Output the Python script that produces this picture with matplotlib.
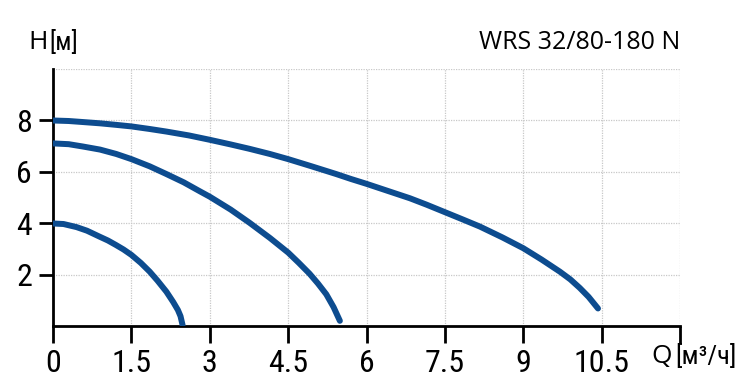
import numpy as np
import matplotlib
matplotlib.use('Agg')
import matplotlib.pyplot as plt
from matplotlib import font_manager

# 读取的曲线数据 (Q [м³/ч], H [м])
q1 = [0, 0.2, 0.45, 0.65, 0.89, 1.05, 1.2, 1.35, 1.5, 1.68, 1.85, 2.0, 2.17, 2.3, 2.39, 2.44, 2.48]
h1 = [4.0, 3.98, 3.86, 3.72, 3.49, 3.34, 3.17, 2.99, 2.78, 2.47, 2.13, 1.78, 1.35, 0.95, 0.64, 0.40, 0.05]

q2 = [0, 0.3, 0.57, 0.9, 1.21, 1.5, 1.85, 2.17, 2.5, 2.81, 3.0, 3.4, 3.76, 4.15, 4.5,
      4.7, 4.91, 5.07, 5.23, 5.37, 5.49]
h2 = [7.11, 7.08, 6.99, 6.87, 6.70, 6.50, 6.22, 5.92, 5.60, 5.25, 5.04, 4.54, 4.03, 3.44, 2.87,
      2.48, 2.05, 1.67, 1.25, 0.75, 0.22]

q3 = [0, 0.3, 0.57, 0.9, 1.21, 1.5, 1.85, 2.17, 2.6, 3.0, 3.4, 3.76, 4.15, 4.5, 4.95, 5.42,
      5.7, 6.0, 6.4, 6.83, 7.15, 7.5, 7.85, 8.17, 8.6, 9.0, 9.35, 9.7, 9.9, 10.08, 10.25, 10.43]
h3 = [8.0, 7.98, 7.94, 7.89, 7.83, 7.77, 7.67, 7.57, 7.42, 7.25, 7.07, 6.90, 6.70, 6.50, 6.22, 5.92,
      5.73, 5.54, 5.27, 4.98, 4.73, 4.44, 4.15, 3.88, 3.46, 3.04, 2.60, 2.13, 1.83, 1.50, 1.15, 0.70]

x_ticks = [0, 1.5, 3, 4.5, 6, 7.5, 9, 10.5, 12]
x_labels = ['0', '1.5', '3', '4.5', '6', '7.5', '9', '10.5', '']
y_ticks = [2, 4, 6, 8, 10]
y_labels = ['2', '4', '6', '8', '']

title = 'WRS 32/80-180 N'
line_color = '#0d4c8f'

names = {f.name for f in font_manager.fontManager.ttflist}
narrow = [n for n in ['Liberation Sans Narrow', 'DejaVu Sans Condensed', 'Roboto Condensed'] if n in names] + ['DejaVu Sans']
regular = ['Open Sans', 'DejaVu Sans']

fig = plt.figure(figsize=(7.5, 3.82), dpi=100)
ax = fig.add_axes([0.0707, 0.1453, 0.836, 0.6741])

for q, h in [(q1, h1), (q2, h2), (q3, h3)]:
    ax.plot(q, h, color=line_color, lw=4.3, solid_capstyle='round', solid_joinstyle='round', zorder=3)

ax.set_xlim(0, 12)
ax.set_ylim(0, 10)
ax.set_xticks(x_ticks)
ax.set_xticklabels(x_labels, family=narrow, fontsize=23)
ax.set_yticks(y_ticks)
ax.set_yticklabels(y_labels, family=narrow, fontsize=23)
ax.yaxis.get_major_ticks()[-1].tick1line.set_visible(False)

ax.grid(True, color='#c8c8c8', linestyle=(0, (1, 1)), linewidth=0.9, zorder=0)
ax.spines['top'].set_visible(False)
ax.spines['right'].set_visible(False)
ax.spines['left'].set_linewidth(2)
ax.spines['bottom'].set_linewidth(2)
ax.tick_params(axis='x', length=12, width=2, pad=4)
ax.tick_params(axis='y', length=10, width=2, pad=5)

# 坐标轴标题
fig.text(0.038, 0.888, 'H', fontsize=19, family=regular, ha='left', va='center')
fig.text(0.066, 0.888, '[м]', fontsize=18, family=narrow, ha='left', va='center')
fig.text(0.868, 0.068, 'Q', fontsize=19, family=regular, ha='left', va='center')
fig.text(0.900, 0.068, '[м³/ч]', fontsize=19, family=narrow, ha='left', va='center')
fig.text(0.907, 0.888, title, fontsize=18, family=regular, ha='right', va='center')

fig.savefig('out.png', dpi=100)
